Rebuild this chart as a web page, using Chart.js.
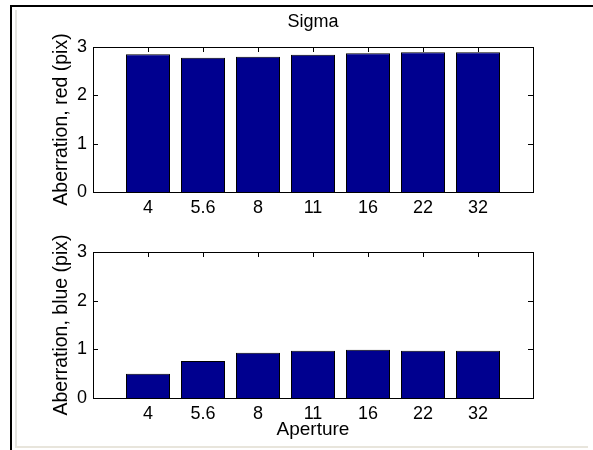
<!DOCTYPE html>
<html>
<head>
<meta charset="utf-8">
<script src="https://cdn.jsdelivr.net/npm/chart.js@4"></script>
<style>
    html, body { margin: 0; padding: 0; background: #fff; }
    body { width: 593px; height: 450px; position: relative; overflow: hidden; }
    .frame-top { position: absolute; left: 10px; top: 5px; width: 583px; height: 2px; background: #000; }
    .frame-left { position: absolute; left: 10px; top: 5px; width: 2px; height: 445px; background: #000; }
    .frame-inner { position: absolute; left: 15px; top: 10px; width: 571px; height: 436px;
        border-left: 2px solid #e4e4e0; border-bottom: 2px solid #e8e5dc; }
    canvas { position: absolute; left: 0; }
    #redChart { top: 0; }
    #blueChart { top: 225px; }
</style>
</head>
<body>
<div class="frame-top"></div>
<div class="frame-left"></div>
<div class="frame-inner"></div>
<canvas id="redChart" width="593" height="225"></canvas>
<canvas id="blueChart" width="593" height="225"></canvas>
<script>
// Data
const apertures = ['4', '5.6', '8', '11', '16', '22', '32'];
const redSigma = [2.85, 2.78, 2.80, 2.84, 2.87, 2.89, 2.89];
const blueSigma = [0.50, 0.76, 0.93, 0.97, 0.99, 0.97, 0.97];
const yTicks = [0, 1, 2, 3];

const FONT = 'Liberation Sans, Arial, Helvetica, sans-serif';
const barColor = '#00008f';

// bars sit at x = 1..7 on a 0..8 axis, like matlab's bar()
const xPositions = apertures.map((a, i) => i + 1);

// matlab style box with inward ticks
const boxPlugin = {
    id: 'box',
    beforeDatasetsDraw(chart) {
        const { ctx, chartArea: a, scales } = chart;
        const len = 5;
        ctx.save();
        ctx.strokeStyle = '#000';
        ctx.lineWidth = 1;
        ctx.beginPath();
        scales.x.ticks.forEach(t => {
            const px = Math.round(scales.x.getPixelForValue(t.value)) + 0.5;
            ctx.moveTo(px, a.top); ctx.lineTo(px, a.top + len);
            ctx.moveTo(px, a.bottom); ctx.lineTo(px, a.bottom - len);
        });
        scales.y.ticks.forEach(t => {
            const py = Math.round(scales.y.getPixelForValue(t.value)) + 0.5;
            ctx.moveTo(a.left, py); ctx.lineTo(a.left + len, py);
            ctx.moveTo(a.right, py); ctx.lineTo(a.right - len, py);
        });
        ctx.stroke();
        ctx.restore();
    },
    afterDatasetsDraw(chart) {
        const { ctx, chartArea: a } = chart;
        ctx.save();
        ctx.strokeStyle = '#000';
        ctx.lineWidth = 1;
        ctx.strokeRect(Math.round(a.left) + 0.5, Math.round(a.top) + 0.5,
            Math.round(a.right - a.left), Math.round(a.bottom - a.top));
        ctx.restore();
    }
};

function makeChart(canvasId, values, yLabel, opts) {
    const ctx = document.getElementById(canvasId).getContext('2d');
    const scales = {
        x: {
            type: 'linear',
            min: 0,
            max: 8,
            offset: false,
            grid: { display: false, drawTicks: false },
            border: { display: false },
            afterBuildTicks: s => { s.ticks = xPositions.map(v => ({ value: v })); },
            afterFit: s => { s.height = opts.xHeight; },
            ticks: {
                color: '#000',
                padding: 5,
                maxRotation: 0,
                autoSkip: false,
                font: { family: FONT, size: 18 },
                callback: v => apertures[v - 1] || ''
            },
            title: opts.xTitle
        },
        y: {
            min: 0,
            max: 3,
            grid: { display: false, drawTicks: false },
            border: { display: false },
            afterBuildTicks: s => { s.ticks = yTicks.map(v => ({ value: v })); },
            afterFit: s => { s.width = 93; },
            ticks: {
                color: '#000',
                padding: 6,
                font: { family: FONT, size: 18 }
            },
            title: {
                display: true,
                text: yLabel,
                color: '#000',
                font: { family: FONT, size: 19.5 },
                padding: { top: 50, bottom: 0 }
            }
        }
    };
    if (opts.topTitle) {
        // empty top axis that only carries the title, centred over the plot box
        scales.top = {
            type: 'linear',
            position: 'top',
            min: 0,
            max: 8,
            grid: { display: false, drawTicks: false },
            border: { display: false },
            ticks: { display: false },
            afterFit: s => { s.height = 47; },
            title: {
                display: true,
                text: opts.topTitle,
                color: '#000',
                font: { family: FONT, size: 18 },
                padding: { top: 11, bottom: 0 }
            }
        };
    }
    return new Chart(ctx, {
        type: 'bar',
        data: {
            datasets: [{
                data: values.map((v, i) => ({ x: xPositions[i], y: v })),
                backgroundColor: barColor,
                borderColor: '#000',
                borderWidth: 1,
                barPercentage: 0.8,
                categoryPercentage: 1
            }]
        },
        options: {
            responsive: false,
            animation: false,
            devicePixelRatio: 1,
            layout: { padding: opts.padding },
            plugins: {
                legend: { display: false },
                tooltip: { enabled: false },
                title: { display: false }
            },
            scales: scales
        },
        plugins: [boxPlugin]
    });
}

makeChart('redChart', redSigma, 'Aberration, red (pix)', {
    padding: { left: 0, right: 60, top: 0, bottom: 3 },
    xHeight: 30,
    topTitle: 'Sigma',
    xTitle: { display: false }
});

makeChart('blueChart', blueSigma, 'Aberration, blue (pix)', {
    padding: { left: 0, right: 60, top: 27, bottom: 0 },
    xHeight: 52,
    xTitle: {
        display: true,
        text: 'Aperture',
        color: '#000',
        font: { family: FONT, size: 19 },
        padding: { top: 0, bottom: 9 }
    }
});
</script>
</body>
</html>
